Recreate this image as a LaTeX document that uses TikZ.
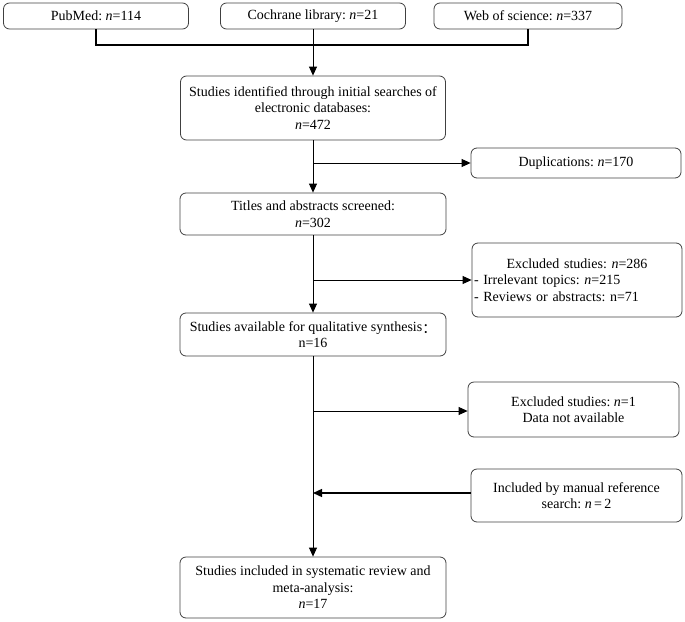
\documentclass[tikz,border=0pt]{standalone}
\usepackage{fontspec}
\setmainfont{Liberation Serif}
\newfontfamily\cjk{Noto Sans CJK SC}
\usetikzlibrary{arrows.meta}
\frenchspacing
\begin{document}
\begin{tikzpicture}[x=1pt,y=-1pt,
  box/.style={draw=black!75, line width=0.8pt, rounded corners=6pt, inner sep=2pt,
    align=center, font=\fontsize{14}{16.5}\selectfont\frenchspacing, anchor=center},
  conn/.style={line width=0.8pt, -{Triangle[length=9pt,width=8pt]}},
  plain/.style={line width=0.8pt}]
\useasboundingbox (0,0) rectangle (685,621);
\node[box, minimum width=185pt, minimum height=26pt] (pub) at (96,16) {PubMed: \textit{n}=114};
\node[box, minimum width=185pt, minimum height=26pt] (coch) at (313,16) {Cochrane library: \textit{n}=21};
\node[box, minimum width=188pt, minimum height=26pt] (web) at (528,16) {Web of science: \textit{n}=337};
\node[box, minimum width=265pt, minimum height=64pt] (id) at (313,108) {Studies identified through initial searches of\\electronic databases:\\\textit{n}=472};
\node[box, minimum width=210pt, minimum height=30pt] (dup) at (576,163) {Duplications: \textit{n}=170};
\node[box, minimum width=266pt, minimum height=42pt] (titles) at (313,214) {Titles and abstracts screened:\\\textit{n}=302};
\node[box, minimum width=210pt, minimum height=74pt, text width=206pt, align=left] (excl) at (577,280) {\makebox[\linewidth]{Excluded studies: \textit{n}=286}\\- Irrelevant topics: \textit{n}=215\\- Reviews or abstracts: n=71\\[4pt]};
\node[box, minimum width=266pt, minimum height=43pt] (avail) at (313,334.5) {Studies available for qualitative synthesis\raisebox{-0.2em}{\cjk ：}\\n=16};
\node[box, minimum width=211pt, minimum height=55pt] (excla) at (573.5,409.5) {Excluded studies: \textit{n}=1\\Data not available};
\node[box, minimum width=211pt, minimum height=53pt] (man) at (576.5,495.5) {Included by manual reference\\search: \textit{n}\,=\,2};
\node[box, minimum width=266pt, minimum height=61pt] (fin) at (313,587.5) {Studies included in systematic review and\\meta-analysis:\\\textit{n}=17};
\coordinate (j) at (313,45);
\coordinate (b1) at (313,163);
\coordinate (b2) at (313,280);
\coordinate (b3) at (313,411);
\coordinate (b4) at (313,493);
\draw[line width=1.6pt] (pub.south) -- (pub.south |- j) -- (web.south |- j) -- (web.south);
\draw[conn] (coch.south) -- (id.north);
\draw[conn] (id.south) -- (titles.north);
\draw[conn] (b1) -- (dup.west |- b1);
\draw[conn] (titles.south) -- (avail.north);
\draw[conn] (b2) -- (excl.west |- b2);
\draw[conn] (avail.south) -- (fin.north);
\draw[conn] (b3) -- (excla.west |- b3);
\draw[conn, line width=1.4pt] (man.west |- b4) -- (b4);
\end{tikzpicture}
\end{document}
